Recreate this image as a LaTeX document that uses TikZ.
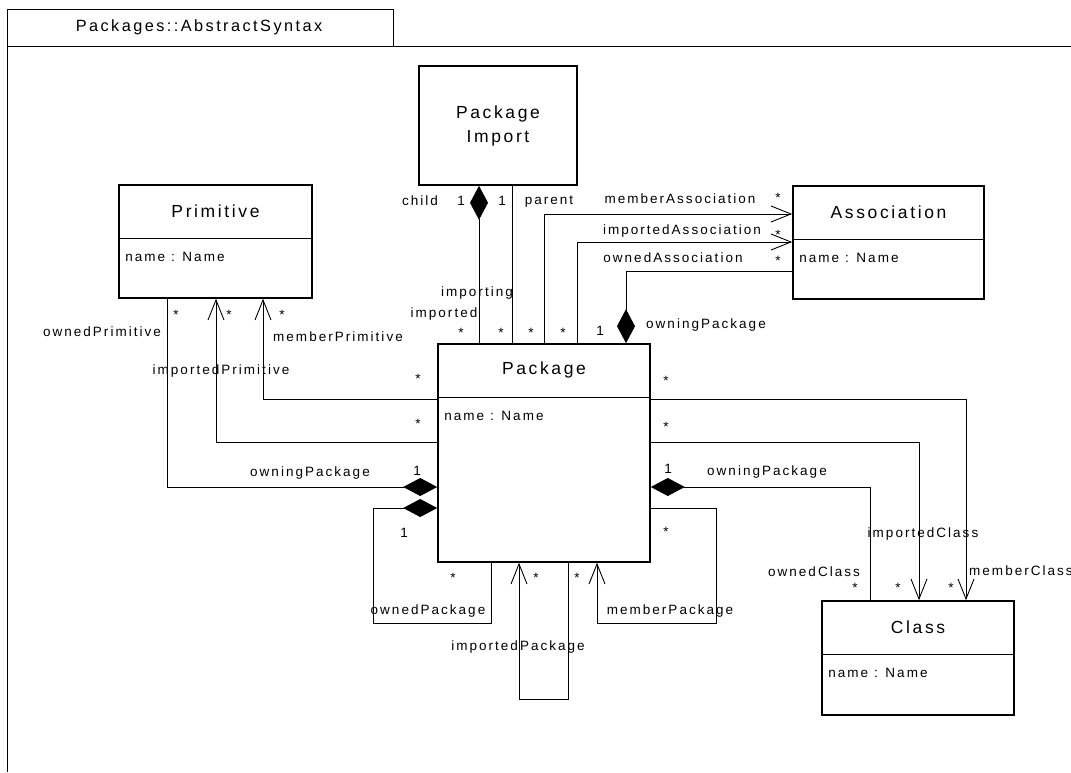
\documentclass[tikz,border=0pt]{standalone}
\usepackage{fontspec}
\setmainfont{Liberation Sans}[LetterSpace=15]
\usetikzlibrary{arrows.meta}

\tikzset{
  umlbox/.style={draw, line width=1.6pt, inner sep=0pt},
  conn/.style={line width=0.9pt},
  nav/.style={conn, -{Straight Barb[length=20pt,width=16pt]}},
  comp/.style={conn, -{Diamond[length=34pt,width=18pt]}},
  title/.style={font=\fontsize{17.5}{24}\selectfont},
  lbl/.style={font=\fontsize{13.5}{15}\selectfont, anchor=base, inner sep=0pt},
}

\begin{document}
\begin{tikzpicture}[x=1pt, y=-1pt]
      \useasboundingbox (0,0) rectangle (1071,772);
      % frame with tab
      \draw[line width=0.9pt] (7,772) -- (7,9) -- (393,9) -- (393,46);
      \draw[line width=0.9pt] (7,46) -- (1071,46);
      \node[title, font=\fontsize{16.3}{20}\selectfont] (frame) at (199,27) {Packages::AbstractSyntax};

      % classes
      \foreach \n/\x/\y/\w/\h/\t in {prim/215.5/241.5/193/113/Primitive,
          assoc/888.5/242.5/191/113/Association, pkg/544/453/212/218/Package,
          cls/918/658/192/114/Class} {
        \node[umlbox, minimum width=\w pt, minimum height=\h pt] (\n) at (\x,\y) {};
        \draw[line width=1.2pt] ([yshift=-54pt]\n.north west) -- ([yshift=-54pt]\n.north east);
        \node[title] (\n-title) at ([yshift=-27pt]\n.north) {\t};
        \node[lbl, anchor=base west] (\n-attr) at ([xshift=7pt,yshift=-77pt]\n.north west) {name : Name};
      }
      \node[umlbox, title, align=center, minimum width=158pt, minimum height=119pt] (pi) at (498,125.5) {Package\\Import};

      % package import
      \draw[comp] (pkg.north -| 479,0) -- (pi.south -| 479,0);
      \draw[conn] (pkg.north -| 512,0) -- (pi.south -| 512,0);

      % association
      \draw[nav] (pkg.north -| 544,0) |- (assoc.west |- 0,214);
      \draw[nav] (pkg.north -| 577,0) |- (assoc.west |- 0,242);
      \draw[comp] (assoc.west |- 0,271) -| (pkg.north -| 626,0);

      % primitive
      \draw[comp] (prim.south -| 167,0) |- (pkg.west |- 0,487);
      \draw[nav] (pkg.west |- 0,442) -| (prim.south -| 216,0);
      \draw[nav] (pkg.west |- 0,399) -| (prim.south -| 263,0);

      % class
      \draw[nav] (pkg.east |- 0,399) -| (cls.north -| 966,0);
      \draw[nav] (pkg.east |- 0,442) -| (cls.north -| 919,0);
      \draw[comp] (cls.north -| 870,0) |- (pkg.east |- 0,487);

      % package to itself
      \draw[comp] (pkg.south -| 491,0) -- (491,623) -| (373,508) -- (pkg.west |- 0,508);
      \draw[nav] (pkg.south -| 568,0) -- (568,699) -| (pkg.south -| 519,0);
      \draw[nav] (pkg.east |- 0,508) -| (716,623) -| (pkg.south -| 597,0);

      % role names and multiplicities
      \foreach \x/\y/\t [count=\i] in {420/205/child, 461/205/1, 502/205/1, 549/204/parent,
          477/296/importing, 444/317/imported, 600/335/1, 706/328/owningPackage,
          680/203/memberAssociation, 682/234/importedAssociation, 673/262/ownedAssociation,
          102/336/ownedPrimitive, 338/341/memberPrimitive, 221/374/importedPrimitive,
          310/476/owningPackage, 417/475/1, 404/537/1, 428/614/ownedPackage,
          518/650/importedPackage, 670/614/memberPackage, 668/473/1,
          767/475/owningPackage, 923/537/importedClass, 814/576/ownedClass}
        \node[lbl] (lab\i) at (\x,\y) {\t};
      \node[lbl, anchor=base west] (lab-mc) at (969,575) {memberClass};
      \foreach \x/\y [count=\i] in {461/337, 501/337, 531/337, 563/337, 778/202, 778/239,
          778/265, 176/319, 229/319, 282/319, 418/383, 418/428, 453/582, 536/582, 577/582,
          666/536, 666/385, 666/431, 855/592, 898/592, 951/592}
        \node[lbl] (mul\i) at (\x,\y) {*};
    \end{tikzpicture}
\end{document}
